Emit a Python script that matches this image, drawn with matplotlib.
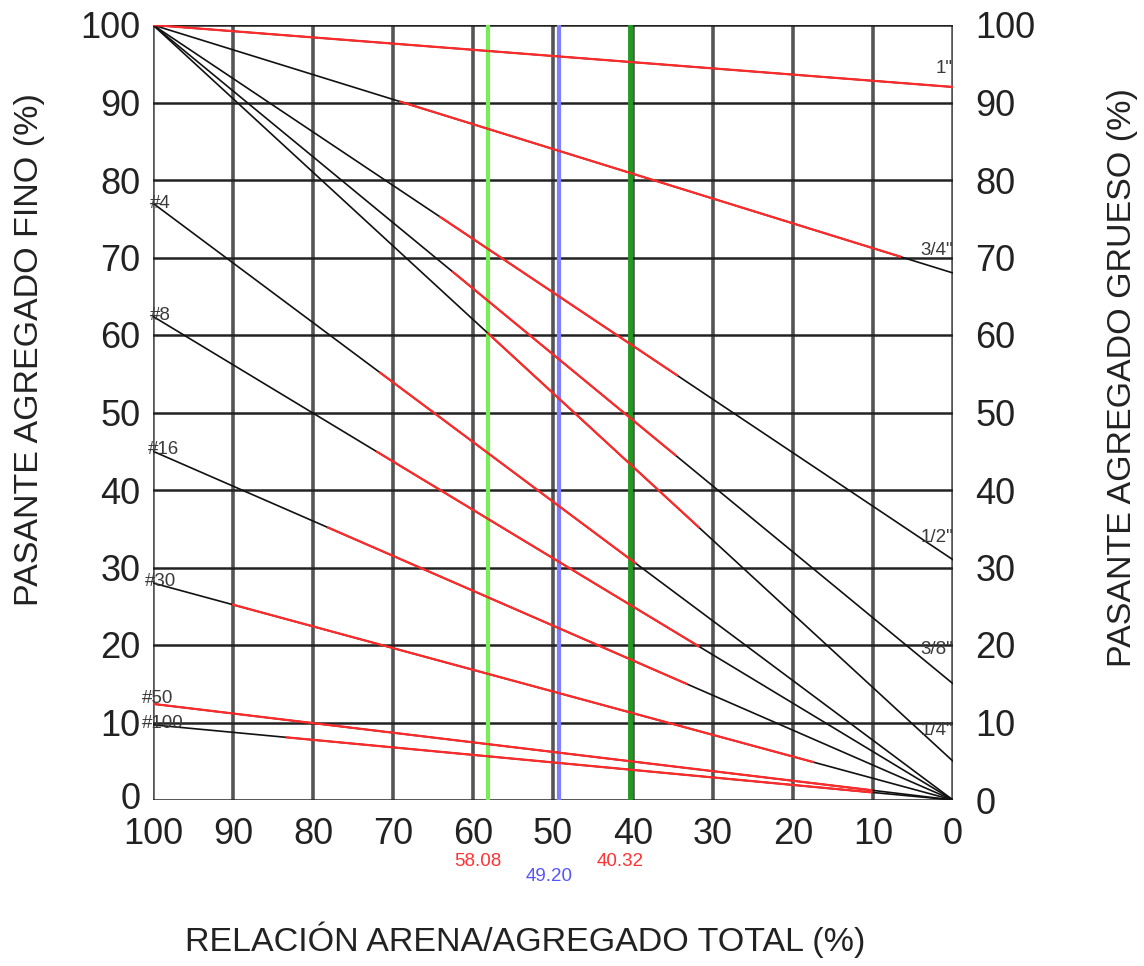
import numpy as np
import matplotlib
matplotlib.use("Agg")
import matplotlib.pyplot as plt
import matplotlib.transforms as mtransforms

plt.rcParams['font.family'] = ['Liberation Sans', 'DejaVu Sans']

# ---------------- data ----------------
# Sieve lines: passing % of fine aggregate (x = 100) and coarse aggregate (x = 0)
sieves = ['1"', '3/4"', '1/2"', '3/8"', '1/4"', '#4', '#8', '#16', '#30', '#50', '#100']
fine_passing = [100, 100, 100, 100, 100, 77.0, 62.4, 45.0, 28.0, 12.4, 9.7]
coarse_passing = [92.0, 68.0, 31.0, 15.0, 5.0, 0, 0, 0, 0, 0, 0]
# red (within limits) portion of each line, in sand/total ratio (%)
red_from = [100, 69.1, 64.1, 62.5, 58.1, 71.6, 72.0, 78.1, 90.0, 100, 83.3]
red_to = [0, 6.6, 34.5, 34.7, 31.8, 39.7, 31.8, 33.3, 17.5, 10.2, 10.2]

# Vertical reference lines (sand / total aggregate %)
ratio_values = [58.08, 49.20, 40.32]
ratio_labels = ['58.08', '49.20', '40.32']

x_ticks = list(range(0, 101, 10))
y_ticks = list(range(0, 101, 10))

# ---------------- figure ----------------
W, H = 1144, 966
fig = plt.figure(figsize=(W / 100, H / 100), dpi=100)
ax = fig.add_axes([153 / W, 1 - 800 / H, 800 / W, 775 / H])
ax.set_xlim(100, 0)
ax.set_ylim(0, 100)

# grid
for xv in x_ticks:
    ax.axvline(xv, color='#555555', lw=2.6, zorder=1)
for yv in y_ticks:
    ax.axhline(yv, color='#222222', lw=1.8, zorder=1)

# vertical ratio lines
ratio_colors = ['#77ee55', '#8080ff', '#229922']
ratio_widths = [3.0, 3.0, 3.5]
for v, c, w in zip(ratio_values, ratio_colors, ratio_widths):
    ax.axvline(v, color=c, lw=w, zorder=2)

# sieve lines
for name, f, c, r0, r1 in zip(sieves, fine_passing, coarse_passing, red_from, red_to):
    xs = np.array([0.0, 100.0])
    ys = np.array([c, f])
    ax.plot(xs, ys, color='#111111', lw=1.2, zorder=3)
    rx = np.array([r1, r0])
    ry = np.interp(rx, xs, ys)
    ax.plot(rx, ry, color='#ff2a2a', lw=1.6, zorder=4)

# sieve labels
label_fs = 13.5
right_offsets = {'1"': 13, '3/4"': 16, '1/2"': 16, '3/8"': 25, '1/4"': 22}
for name, f, c in zip(sieves, fine_passing, coarse_passing):
    if name in right_offsets:
        ax.annotate(name, xy=(0, c), xytext=(0, right_offsets[name]),
                    textcoords='offset points', ha='right', va='center',
                    fontsize=label_fs, color='#3a3a3a', zorder=6,
                    annotation_clip=False, clip_on=False)
left_offsets = {'#4': (-2, 0), '#8': (-2, 1), '#16': (-4, 1), '#30': (-6, 1),
                '#50': (-8, 4), '#100': (-8, 1)}
for name, f in zip(sieves, fine_passing):
    if name in left_offsets:
        dx, dy = left_offsets[name]
        ax.annotate(name, xy=(100, f), xytext=(dx, dy),
                    textcoords='offset points', ha='left', va='center',
                    fontsize=label_fs, color='#3a3a3a', zorder=6)

# ratio value labels under the axis
trans = mtransforms.blended_transform_factory(ax.transData, ax.transAxes)
lab_cols = ['#ff3333', '#5555ff', '#ff3333']
lab_y = [-0.080, -0.099, -0.080]
for v, t, c, yy in zip(ratio_values, ratio_labels, lab_cols, lab_y):
    ax.text(v + 1.3, yy, t, transform=trans, ha='center', va='center',
            fontsize=13.5, color=c)

# ticks
tick_fs = 26
ax.set_xticks(x_ticks)
ax.set_yticks(y_ticks)
ax.tick_params(axis='both', length=0, labelsize=tick_fs, labelcolor='#222222')
ax.tick_params(axis='x', pad=12)
ax.tick_params(axis='y', pad=9)
for s in ax.spines.values():
    s.set_visible(False)
# nudge the corner "0" label slightly up so it does not touch "100"
t0 = ax.yaxis.get_major_ticks()[0].label1
t0.set_transform(t0.get_transform() +
                 mtransforms.ScaledTranslation(0, 3 / 72, fig.dpi_scale_trans))

ax2 = ax.twinx()
ax2.set_ylim(0, 100)
ax2.set_yticks(y_ticks)
ax2.tick_params(axis='y', length=0, labelsize=tick_fs, labelcolor='#222222', pad=16)
for s in ax2.spines.values():
    s.set_visible(False)

# axis titles
title_fs = 24.5
fig.text(30 / W, 1 - 350 / H, 'PASANTE AGREGADO FINO (%)', rotation=90,
         ha='center', va='center', fontsize=title_fs, color='#222222')
fig.text(1122 / W, 1 - 378 / H, 'PASANTE AGREGADO GRUESO (%)', rotation=90,
         ha='center', va='center', fontsize=title_fs, color='#222222')
fig.text(525 / W, 1 - 940 / H, 'RELACIÓN ARENA/AGREGADO TOTAL (%)',
         ha='center', va='center', fontsize=title_fs, color='#222222')

fig.savefig('out.png', dpi=100, facecolor='white')
